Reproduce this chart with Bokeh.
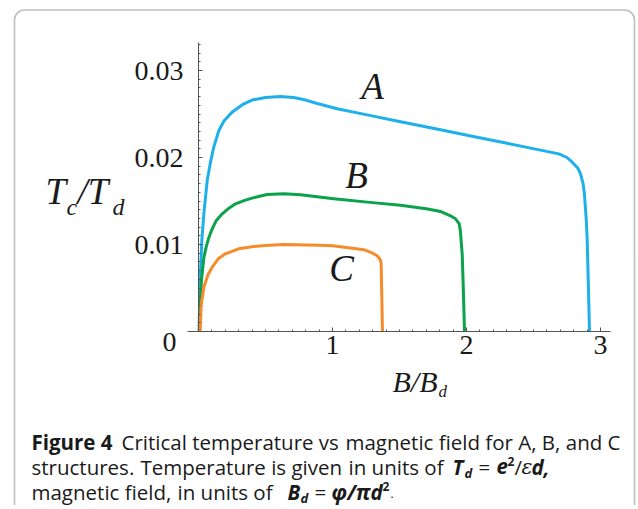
from bokeh.plotting import figure
from bokeh.models import Range1d, SingleIntervalTicker, Label, BoxAnnotation
from bokeh.embed import file_html
from bokeh.resources import INLINE

# ---- data ----
x_a = [0.004, 0.012, 0.025, 0.04, 0.065, 0.09, 0.114, 0.152, 0.19, 0.25, 0.33, 0.40, 0.50,
       0.61, 0.71, 0.80, 0.886, 1.035, 1.259, 1.507, 1.806, 2.05, 2.304, 2.552, 2.689, 2.75,
       2.789, 2.83, 2.851, 2.87, 2.88, 2.893, 2.90, 2.91, 2.918]
y_a = [0.0, 0.00586, 0.0105, 0.01355, 0.01736, 0.0195, 0.02119, 0.0231, 0.0242, 0.0252,
       0.0261, 0.0266, 0.0269, 0.0270, 0.02690, 0.0266, 0.0262, 0.0256, 0.0249, 0.02412,
       0.02319, 0.02242, 0.02163, 0.02085, 0.02042, 0.0200, 0.01946, 0.0188, 0.01813,
       0.0170, 0.01583, 0.0130, 0.01084, 0.0050, 0.0]

x_b = [0.008, 0.015, 0.022, 0.04, 0.057, 0.075, 0.097, 0.13, 0.177, 0.23, 0.276, 0.35,
       0.425, 0.512, 0.637, 0.761, 1.01, 1.259, 1.507, 1.70, 1.806, 1.88, 1.918, 1.945,
       1.955, 1.962, 1.968, 1.977, 1.985]
y_b = [0.0, 0.0035, 0.00586, 0.0085, 0.00969, 0.0107, 0.01161, 0.0127, 0.01353, 0.0142,
       0.01468, 0.0151, 0.01544, 0.01575, 0.01582, 0.01571, 0.01525, 0.01487, 0.0145,
       0.0141, 0.0138, 0.0133, 0.01295, 0.0124, 0.0115, 0.0100, 0.0089, 0.0045, 0.0]

x_c = [0.012, 0.02, 0.04, 0.07, 0.102, 0.15, 0.2, 0.3, 0.4, 0.5, 0.637, 0.9, 1.0, 1.135,
       1.234, 1.3, 1.333, 1.355, 1.363, 1.368, 1.373]
y_c = [0.0, 0.003, 0.00509, 0.0065, 0.00739, 0.0084, 0.00893, 0.0095, 0.00975, 0.00989,
       0.0100, 0.0099, 0.00985, 0.0096, 0.0094, 0.0090, 0.0087, 0.0083, 0.0079, 0.0040, 0.0]

series_names = ["A", "B", "C"]
series_colors = ["#1DB0EA", "#0AA24A", "#F68B2C"]

x_axis_bounds = (-0.082, 3.075)
y_axis_bounds = (0.0, 0.0332)

# ---- geometry (frame = whole canvas) ----
W, H = 636, 505
X0, XS = 198, 134.0      # canvas x of B=0, px per unit
Y0, YS = 331, 8700.0     # canvas y of Tc=0, px per unit

p = figure(width=W, height=H, output_backend="svg", toolbar_location=None,
           x_range=Range1d(-X0 / XS, (W - X0) / XS),
           y_range=Range1d((Y0 - H) / YS, Y0 / YS),
           min_border=0, min_border_left=0, min_border_right=0,
           min_border_top=0, min_border_bottom=0)
p.outline_line_color = None
p.xgrid.visible = False
p.ygrid.visible = False
p.background_fill_color = "white"
p.border_fill_color = "white"

AX = "#555555"
for ax in (p.xaxis[0], p.yaxis[0]):
    ax.fixed_location = 0
    ax.axis_line_color = AX
    ax.axis_line_width = 1
    ax.major_tick_line_color = AX
    ax.minor_tick_line_color = AX
    ax.major_tick_in = 4
    ax.major_tick_out = 0
    ax.minor_tick_in = 2
    ax.minor_tick_out = 0
    ax.major_label_text_font = "Liberation Serif"
    ax.major_label_text_font_size = "28px"
    ax.major_label_text_color = "#1a1a1a"

p.xaxis.bounds = x_axis_bounds
p.yaxis.bounds = y_axis_bounds
p.xaxis.ticker = SingleIntervalTicker(interval=1, num_minor_ticks=10)
p.yaxis.ticker = SingleIntervalTicker(interval=0.01, num_minor_ticks=10)
p.xaxis.major_label_overrides = {0: ""}
p.yaxis.major_label_overrides = {0: ""}
p.yaxis.major_label_standoff = 15
p.xaxis.major_label_standoff = 4

for xs, ys, col in zip((x_a, x_b, x_c), (y_a, y_b, y_c), series_colors):
    p.line(xs, ys, line_color=col, line_width=3, line_join="round")


def lab(text, px, py, size, font="Liberation Serif", style="normal", align="left",
        color="#1a1a1a"):
    # px, py: canvas pixels (py = vertical middle of the text)
    p.add_layout(Label(x=px, y=H - py, x_units="screen", y_units="screen",
                       text=text, text_font=font, text_font_size=f"{size}px",
                       text_font_style=style, text_align=align,
                       text_baseline="middle", text_color=color))


# series labels
for name, (px, py) in zip(series_names, [(372, 85.5), (356, 175), (341, 267.5)]):
    lab(name, px, py, 37, style="italic", align="center")

# origin "0"
lab("0", 176, 341.5, 28, align="right")

# y axis title  T_c / T_d
lab("T", 45, 190.5, 37, style="italic")
lab("c", 66, 206, 24, style="italic")
lab("/T", 77, 190.5, 37, style="italic")
lab("d", 112, 206.5, 24, style="italic")

# x axis title  B / B_d
lab("B/B", 392, 380.5, 30, style="italic")
lab("d", 438, 391, 17, style="italic")

# caption
CF = "Open Sans"
CS = 20.5
SUB = 13
L1, L2, L3 = 441, 466, 491
lab("Figure 4", 31, L1, CS, font=CF, style="bold")
lab("Critical temperature vs", 121, L1, CS, font=CF)
lab("magnetic field for A, B, and C", 345, L1, CS, font=CF)
lab("structures.", 31, L2, CS, font=CF)
lab("Temperature is given", 140, L2, CS, font=CF)
lab("in units of", 348, L2, CS, font=CF)
lab("T", 452, L2, CS, font=CF, style="bold italic")
lab("d", 464, L2 + 6, SUB, font=CF, style="bold italic")
lab("=", 478, L2, CS, font=CF)
lab("e", 496, L2, CS, font=CF, style="bold italic")
lab("2", 507, L2 - 5, 12, font=CF, style="bold")
lab("/", 514, L2, CS, font=CF)
lab("\u03b5", 521, L2, CS, font="DejaVu Serif", style="italic")
lab("d,", 531, L2, CS, font=CF, style="bold italic")
lab("magnetic field,", 31, L3, CS, font=CF)
lab("in units of", 177, L3, CS, font=CF)
lab("B", 287, L3, CS, font=CF, style="bold italic")
lab("d", 300, L3 + 6, SUB, font=CF, style="bold italic")
lab("=", 314, L3, CS, font=CF)
lab("\u03c6/\u03c0d", 331, L3, CS, font=CF, style="bold italic")
lab("2", 382, L3 - 5, 12, font=CF, style="bold")
lab(".", 390, L3 + 2, 12, font=CF)

# rounded outer frame (placed through the plot's own scales)
p.add_layout(BoxAnnotation(left=(14 - X0) / XS, right=(634 - X0) / XS,
                           top=(Y0 - 9.5) / YS, bottom=(Y0 - 600) / YS,
                           fill_alpha=0, line_color="#2a2a2a", line_width=1.6,
                           border_radius=10))

open("out.html", "w").write(file_html(p, INLINE))
